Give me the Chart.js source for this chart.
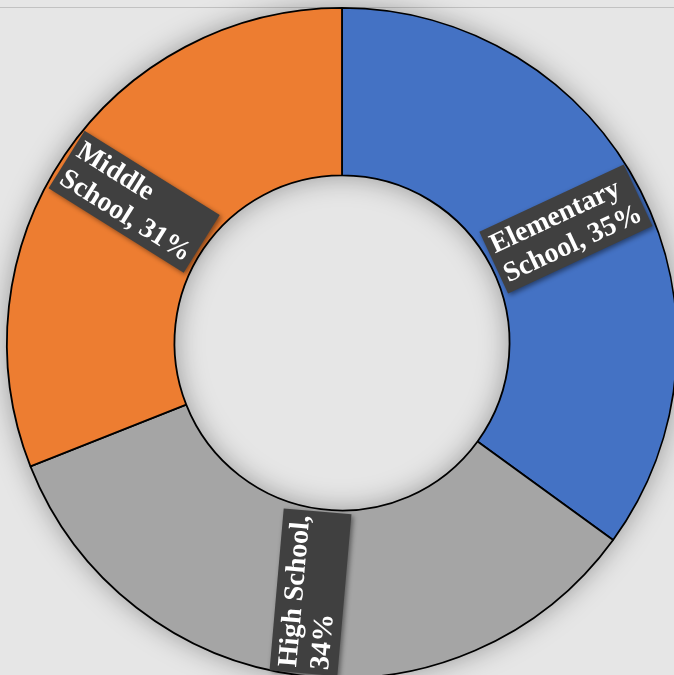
<!DOCTYPE html>
<html>
<head>
<meta charset="utf-8">
<script src="https://cdn.jsdelivr.net/npm/chart.js@4/dist/chart.umd.min.js"></script>
<style>
  html, body { margin: 0; padding: 0; background: #e6e6e6; width: 674px; height: 675px; overflow: hidden; position: relative; }
  #topline { position: absolute; left: 0; top: 7px; width: 674px; height: 1px; background: #c2c2c2; }
  #wrap { position: absolute; left: -34px; top: -33px; width: 752px; height: 752px; }
</style>
</head>
<body>
<div id="topline"></div>
<div id="wrap"><canvas id="c"></canvas></div>
<script>
const categories = ['Elementary School', 'High School', 'Middle School'];
const values = [35, 34, 31];
const colors = ['#4472C4', '#A5A5A5', '#ED7D31'];
const labelRotationDeg = [-25, -85, 32];

const FONT = 'bold 28px "Liberation Serif", "Times New Roman", serif';
const LINE_H = 32;
const MAX_W = 158;

function wrapText(ctx, text, maxW) {
  const words = text.split(' ');
  const lines = [];
  let cur = '';
  words.forEach(w => {
    const t = cur ? cur + ' ' + w : w;
    if (ctx.measureText(t).width > maxW && cur) { lines.push(cur); cur = w; }
    else cur = t;
  });
  if (cur) lines.push(cur);
  return lines;
}

const ringShadow = {
  id: 'ringShadow',
  beforeDatasetsDraw(chart) {
    const meta = chart.getDatasetMeta(0);
    const a = meta.data[0];
    if (!a) return;
    const ctx = chart.ctx;
    ctx.save();
    ctx.beginPath();
    ctx.arc(a.x, a.y, a.outerRadius, 0, Math.PI * 2);
    ctx.arc(a.x, a.y, a.innerRadius, Math.PI * 2, 0, true);
    ctx.closePath();
    ctx.shadowColor = 'rgba(0,0,0,0.35)';
    ctx.shadowBlur = 28;
    ctx.fillStyle = '#888';
    ctx.fill('evenodd');
    ctx.restore();
  }
};

const boxLabels = {
  id: 'boxLabels',
  afterDatasetsDraw(chart) {
    const meta = chart.getDatasetMeta(0);
    const ctx = chart.ctx;
    const total = values.reduce((s, v) => s + v, 0);
    meta.data.forEach((arc, i) => {
      const p = arc.tooltipPosition(true);
      const pct = Math.round(values[i] / total * 100);
      const text = categories[i] + ', ' + pct + '%';
      ctx.save();
      ctx.font = FONT;
      const lines = wrapText(ctx, text, MAX_W);
      const w = Math.max(...lines.map(l => ctx.measureText(l).width));
      const padX = 5, padY = 2;
      const bw = w + padX * 2, bh = lines.length * LINE_H + padY * 2;
      ctx.translate(p.x, p.y);
      ctx.rotate(labelRotationDeg[i] * Math.PI / 180);
      ctx.shadowColor = 'rgba(0,0,0,0.45)';
      ctx.shadowBlur = 5;
      ctx.shadowOffsetX = 2;
      ctx.shadowOffsetY = 2;
      ctx.fillStyle = '#404040';
      ctx.fillRect(-bw / 2, -bh / 2, bw, bh);
      ctx.shadowColor = 'transparent';
      ctx.fillStyle = '#ffffff';
      ctx.textAlign = 'left';
      ctx.textBaseline = 'middle';
      lines.forEach((l, k) => {
        ctx.fillText(l, -bw / 2 + padX, -bh / 2 + padY + LINE_H * (k + 0.5) + 1);
      });
      ctx.restore();
    });
  }
};

new Chart(document.getElementById('c'), {
  type: 'doughnut',
  data: {
    labels: categories,
    datasets: [{
      data: values,
      backgroundColor: colors,
      borderColor: '#000000',
      borderWidth: 1.8
    }]
  },
  options: {
    responsive: true,
    maintainAspectRatio: false,
    animation: false,
    cutout: '50%',
    layout: { padding: 40 },
    plugins: { legend: { display: false }, tooltip: { enabled: false } }
  },
  plugins: [ringShadow, boxLabels]
});
</script>
</body>
</html>
